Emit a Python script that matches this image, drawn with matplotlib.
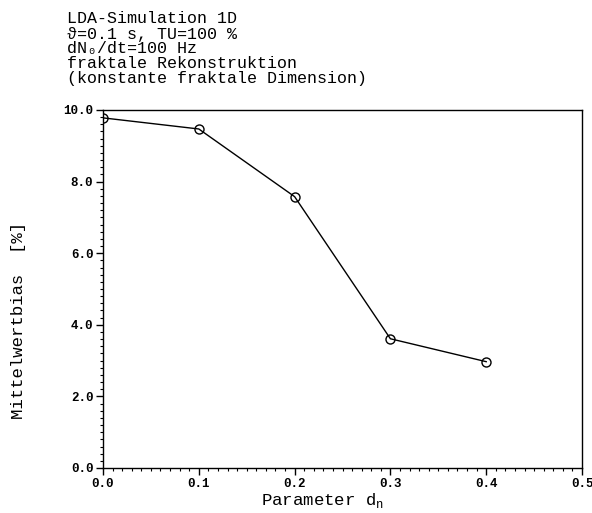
import numpy as np
import matplotlib
matplotlib.use("Agg")
import matplotlib.pyplot as plt
from matplotlib.ticker import MultipleLocator, FormatStrFormatter

# values
param_dn = [0.0, 0.1, 0.2, 0.3, 0.4]
mean_bias = [9.78, 9.47, 7.58, 3.61, 2.97]

title_lines = [
    "LDA-Simulation 1D",
    "\u03d1=0.1 s, TU=100 %",
    "dN\u2080/dt=100 Hz",
    "fraktale Rekonstruktion",
    "(konstante fraktale Dimension)",
]

plt.rcParams['font.family'] = ['Liberation Mono', 'DejaVu Sans Mono']
plt.rcParams['mathtext.fontset'] = 'custom'
plt.rcParams['mathtext.rm'] = 'Liberation Mono'

fig = plt.figure(figsize=(5.92, 5.13), dpi=100)
ax = fig.add_axes([103 / 592, 45 / 513, 479 / 592, 358 / 513])

ax.plot(param_dn, mean_bias, color='black', lw=1.0, marker='o', ms=6.5,
        mfc='none', mec='black', mew=1.0)

ax.set_xlim(0, 0.5)
ax.set_ylim(0, 10)
ax.xaxis.set_major_locator(MultipleLocator(0.1))
ax.xaxis.set_minor_locator(MultipleLocator(0.01))
ax.yaxis.set_major_locator(MultipleLocator(2.0))
ax.yaxis.set_minor_locator(MultipleLocator(0.2))
ax.xaxis.set_major_formatter(FormatStrFormatter('%.1f'))
ax.yaxis.set_major_formatter(FormatStrFormatter('%.1f'))
ax.tick_params(which='major', direction='out', length=5, width=1.0,
               labelsize=9, pad=2)
ax.tick_params(which='minor', direction='out', length=2.5, width=0.8)
for lab in ax.get_xticklabels() + ax.get_yticklabels():
    lab.set_fontweight('bold')
for sp in ax.spines.values():
    sp.set_linewidth(1.0)

fig.text(323 / 592, 1 - 500 / 513, r"Parameter d$_\mathregular{n}$",
         fontsize=12.5, ha='center', va='center')
fig.text(19 / 592, 1 - 320 / 513, "Mittelwertbias  [%]", fontsize=12.5,
         rotation=90, ha='center', va='center')

for i, line in enumerate(title_lines):
    fig.text(67 / 592, 1 - (19 + 15 * i) / 513, line, fontsize=12,
             ha='left', va='center')

fig.savefig("out.png", dpi=100)
